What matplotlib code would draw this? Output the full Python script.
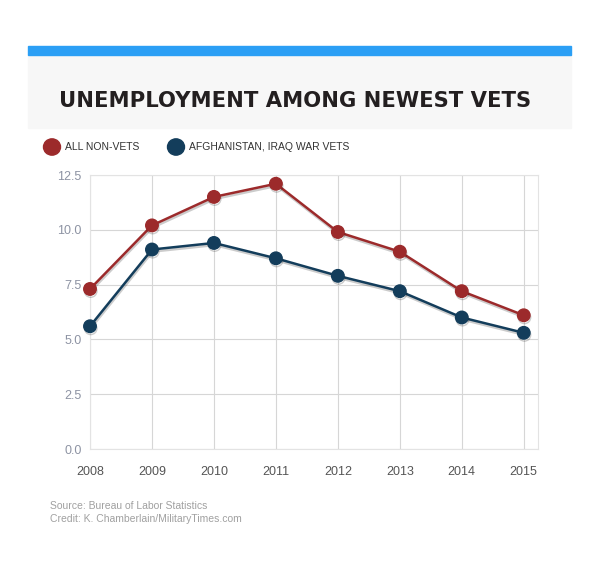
import numpy as np
import matplotlib.pyplot as plt
import matplotlib.patheffects as pe
from matplotlib.patches import Rectangle, Circle

years = [2008, 2009, 2010, 2011, 2012, 2013, 2014, 2015]
non_vets = [7.3, 10.2, 11.5, 12.1, 9.9, 9.0, 7.2, 6.1]
war_vets = [5.6, 9.1, 9.4, 8.7, 7.9, 7.2, 6.0, 5.3]
yticks = [0.0, 2.5, 5.0, 7.5, 10.0, 12.5]

red = '#9c2a2b'
navy = '#133d5b'

W, H = 600, 575
fig = plt.figure(figsize=(6, 5.75), dpi=100)

def fx(px):
    return px / W

def fy(py):
    return 1 - py / H

# header
fig.patches.append(Rectangle((fx(28), fy(55)), fx(543), 9 / H, transform=fig.transFigure,
                             color='#2b9ff5', zorder=1))
fig.patches.append(Rectangle((fx(28), fy(128)), fx(543), 73 / H, transform=fig.transFigure,
                             color='#f7f7f7', zorder=0))
fig.text(fx(295), fy(101), 'UNEMPLOYMENT AMONG NEWEST VETS', ha='center', va='center',
         fontsize=15.2, fontweight='heavy', family='DejaVu Sans', color='#231f20')

# legend
for cx, label, c in [(52, 'ALL NON-VETS', red), (176, 'AFGHANISTAN, IRAQ WAR VETS', navy)]:
    fig.patches.append(Circle((fx(cx), fy(147)), 8.5 / W, transform=fig.transFigure, color=c))
    fig.text(fx(cx + 13), fy(147), label, ha='left', va='center', fontsize=7.5,
             family='Liberation Sans', color='#333333')

ax = fig.add_axes([fx(90), fy(449), fx(538 - 90), (449 - 175) / H])
for vals, c in [(non_vets, red), (war_vets, navy)]:
    ax.plot(years, vals, color=c, lw=1.8, marker='o', ms=9, zorder=3, clip_on=False,
            path_effects=[pe.SimpleLineShadow(offset=(0.5, -1.5), alpha=0.2), pe.Normal()])

ax.set_xlim(2008, 2015.23)
ax.set_ylim(0, 12.5)
ax.set_xticks(years)
ax.set_yticks(yticks)
ax.set_yticklabels([f'{v:.1f}' for v in yticks])
ax.grid(True, color='#d6d6d6', lw=0.8)
ax.set_axisbelow(True)
for s in ax.spines.values():
    s.set_color('#e3e3e3')
ax.tick_params(length=0)
ax.tick_params(axis='y', pad=6, labelsize=9, labelcolor='#8d93a3')
ax.tick_params(axis='x', pad=12, labelsize=9, labelcolor='#555555')
for t in ax.get_xticklabels() + ax.get_yticklabels():
    t.set_family('Liberation Sans')

fig.text(fx(50), fy(506), 'Source: Bureau of Labor Statistics', fontsize=7.5, va='center',
         family='Liberation Sans', color='#a0a0a0')
fig.text(fx(50), fy(519), 'Credit: K. Chamberlain/MilitaryTimes.com', fontsize=7.5, va='center',
         family='Liberation Sans', color='#a0a0a0')

fig.savefig('out.png', dpi=100)
